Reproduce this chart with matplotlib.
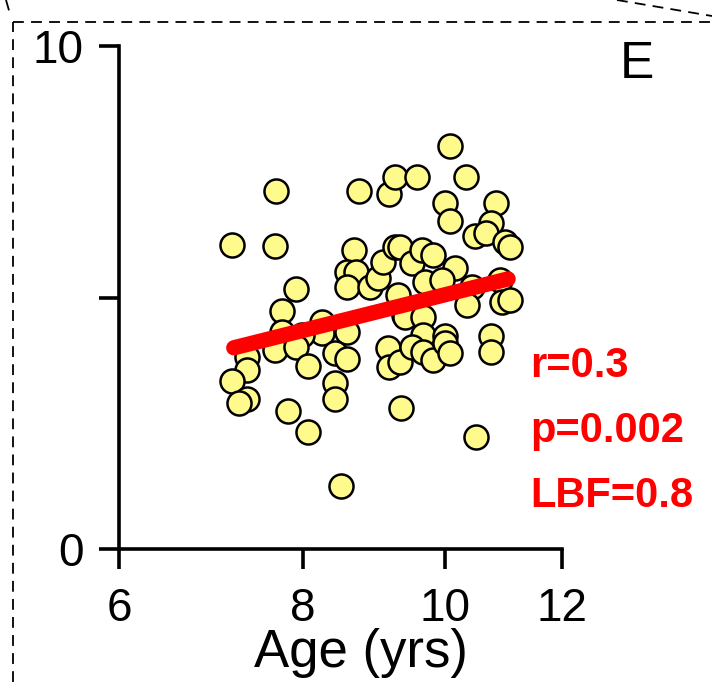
import numpy as np
import matplotlib
matplotlib.use('Agg')
import matplotlib.pyplot as plt
from matplotlib.lines import Line2D
from matplotlib.ticker import NullLocator

plt.rcParams['font.family'] = ['Liberation Sans', 'DejaVu Sans']

# data
age = [7.67, 7.16, 7.66, 7.91, 7.74, 7.74, 8.24, 8.24, 7.99, 7.66,
       7.91, 7.33, 7.33, 7.16, 7.33, 7.24, 8.07, 7.82, 8.07, 8.49,
       8.57, 8.41, 8.57, 8.41, 8.41, 8.73, 8.67, 8.57, 8.70, 8.57,
       8.89, 9.00, 9.07, 9.15, 9.24, 9.57, 9.24, 9.31, 9.49, 9.64,
       9.29, 9.37, 9.39, 9.66, 9.66, 9.14, 9.16, 9.31, 9.49, 9.66,
       9.81, 10.00, 10.00, 10.07, 9.33, 9.69, 10.07, 10.33, 10.00, 10.07,
       10.82, 10.73, 10.47, 10.66, 10.98, 11.06, 9.81, 10.15, 9.95, 10.43,
       10.89, 10.93, 11.06, 10.34, 10.73, 10.73, 10.49]
score = [7.12, 6.04, 6.02, 5.17, 4.73, 4.31, 4.51, 4.29, 4.25, 3.96,
         4.02, 3.82, 3.56, 3.34, 2.98, 2.90, 3.64, 2.74, 2.33, 1.25,
         4.31, 3.90, 3.78, 3.30, 2.98, 7.12, 5.94, 5.51, 5.51, 5.21,
         5.21, 5.39, 5.71, 7.06, 7.40, 7.40, 6.00, 6.00, 5.69, 5.94,
         5.05, 4.65, 4.61, 4.61, 4.25, 4.00, 3.62, 3.72, 4.02, 3.92,
         3.76, 4.23, 4.10, 3.90, 2.80, 5.31, 8.01, 7.40, 6.88, 6.52,
         6.88, 6.48, 6.22, 6.28, 6.10, 6.00, 5.84, 5.59, 5.35, 5.21,
         5.35, 4.91, 4.95, 4.85, 4.23, 3.92, 2.23]

fit_age = [7.18, 11.03]
fit_score = [4.00, 5.37]

x_ticks = [6, 8, 10, 12]
y_ticks = [0, 5, 10]
y_ticklabels = ['0', '', '10']
stats = ['r=0.3', 'p=0.002', 'LBF=0.8']

fig = plt.figure(figsize=(7.12, 6.82), dpi=100)
ax = fig.add_axes([119 / 712, 133 / 682, 443 / 712, 503 / 682])

ax.scatter(age, score, s=300, facecolor='#FFFA8C', edgecolor='black',
           linewidth=1.8, zorder=3, clip_on=False)
ax.plot(fit_age, fit_score, color='#FF0000', linewidth=11,
        solid_capstyle='round', zorder=4)

ax.set_xscale('log')
ax.set_xlim(6, 12)
ax.set_ylim(0, 10)
ax.set_xticks(x_ticks)
ax.set_xticklabels([str(t) for t in x_ticks])
ax.xaxis.set_minor_locator(NullLocator())
ax.set_yticks(y_ticks)
ax.set_yticklabels(y_ticklabels)

for side in ['top', 'right']:
    ax.spines[side].set_visible(False)
for side in ['left', 'bottom']:
    ax.spines[side].set_linewidth(2.6)
ax.tick_params(axis='both', direction='out', length=14.5, width=2.6,
               labelsize=33)
ax.tick_params(axis='x', pad=13)
ax.tick_params(axis='y', pad=11)

ax.set_xlabel('Age (yrs)', fontsize=38, va='top')
ax.xaxis.set_label_coords(0.546, -0.158)

ax.text(1.169, 0.964, 'E', transform=ax.transAxes, fontsize=37,
        ha='center', va='center')

for txt, yy in zip(stats, [0.342, 0.213, 0.0835]):
    ax.text(0.928, yy, txt, transform=ax.transAxes, fontsize=30,
            fontweight='bold', color='#FF0000', ha='left', va='baseline')

# dashed panel frame (part of a larger figure)
dash = dict(color='black', linewidth=1.3, linestyle=(0, (6, 4)))
fig.add_artist(Line2D([13 / 712, 13 / 712], [0, 1 - 22 / 682], **dash))
fig.add_artist(Line2D([13 / 712, 1], [1 - 22 / 682, 1 - 22 / 682], **dash))
fig.add_artist(Line2D([617 / 712, 1], [1, 1 - 16 / 682], **dash))
fig.add_artist(Line2D([6 / 712, 10 / 712], [1, 1 - 14 / 682], **dash))

fig.savefig('out.png', dpi=100)
